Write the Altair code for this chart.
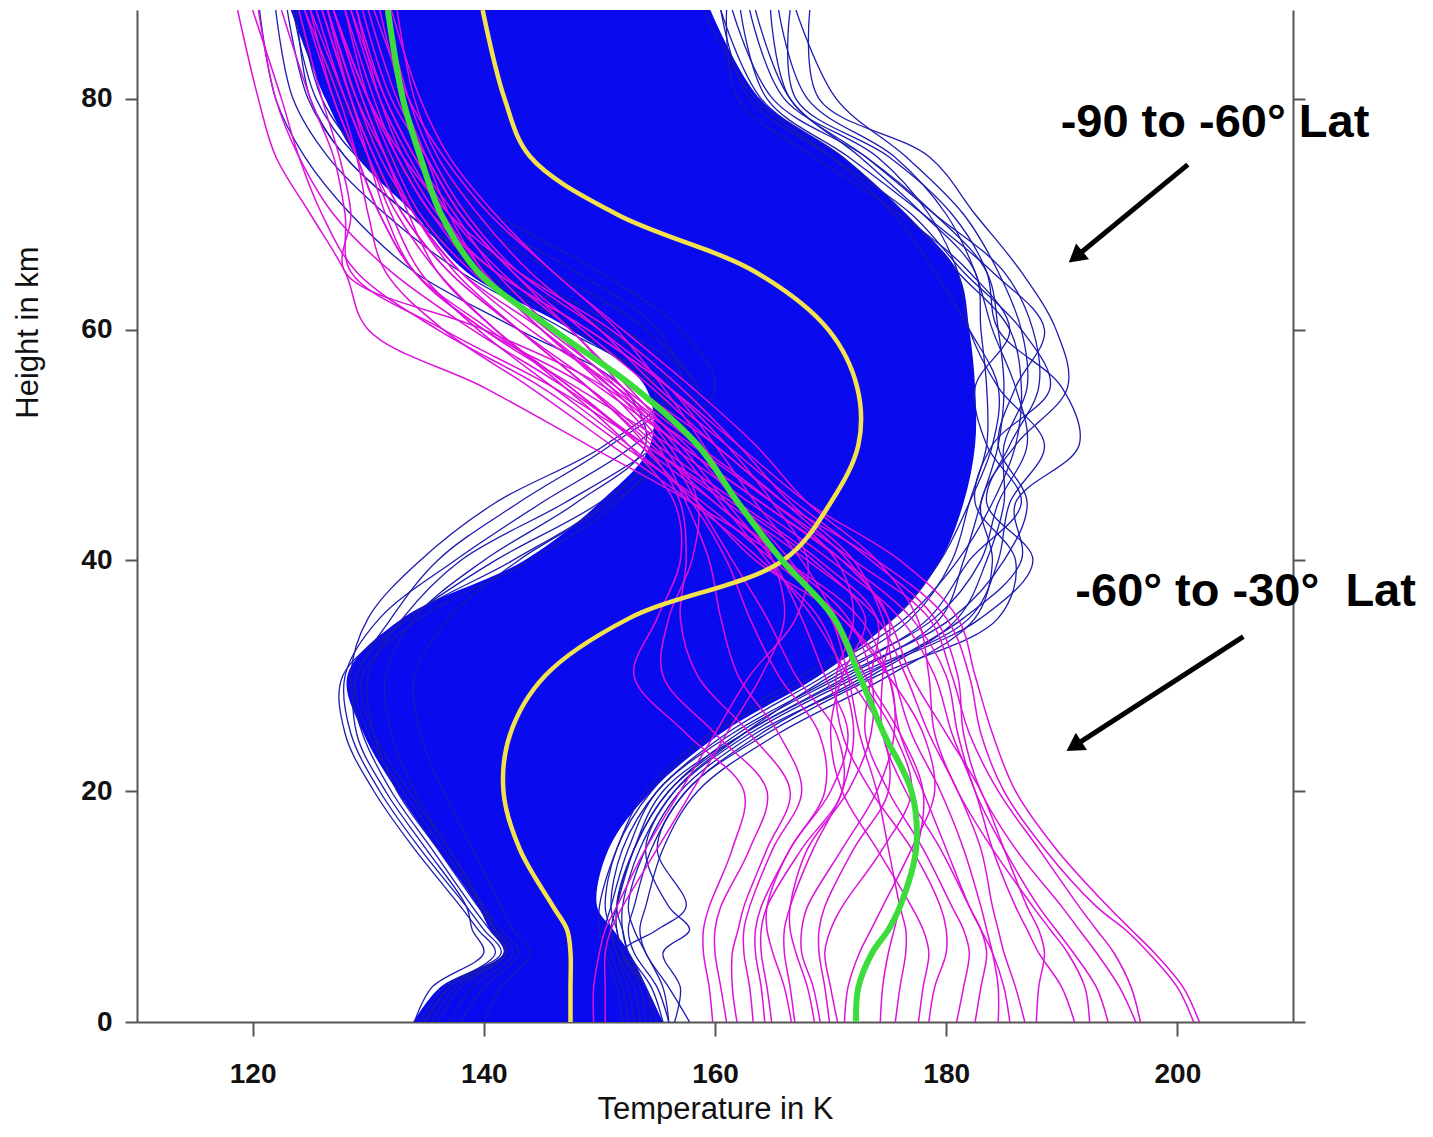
import altair as alt
import pandas as pd

# Height levels (km) shared by every profile
HEIGHTS = [0, 3, 6, 8, 10, 15, 20, 25, 30, 35, 40, 45, 50, 55, 60, 65, 70, 75, 80, 87.7]

# Dense core of the -90..-60 deg profiles (left / right edge, K)
BLUE_CORE_LO = [133.9, 136.2, 141.7, 140.5, 139.5, 136.0, 132.5, 129.6, 128.2, 133.0,
                143.5, 150.0, 154.4, 154.0, 147.5, 138.5, 134.0, 129.0, 126.3, 123.3]
BLUE_CORE_HI = [155.5, 154.1, 152.6, 151.2, 149.8, 150.8, 154.5, 160.5, 169.0, 175.5,
                179.5, 181.5, 182.5, 182.5, 182.0, 181.0, 176.5, 171.0, 163.9, 159.6]

# Individual -90..-60 deg profiles at the edges of the bundle (K)
BLUE_PROFILES = [
    [157.8, 156.0, 154.0, 153.5, 154.0, 155.5, 158.5, 165.5, 175.0, 182.5, 184.0, 183.0, 186.0, 190.5, 189.5, 186.5, 182.5, 178.5, 169.0, 168.2],
    [156.0, 155.0, 153.0, 152.5, 153.0, 154.5, 157.5, 164.0, 173.0, 181.5, 186.5, 186.0, 191.5, 190.0, 184.5, 183.5, 180.5, 175.0, 167.0, 166.5],
    [155.5, 154.5, 152.5, 152.0, 152.0, 153.5, 156.5, 163.0, 172.5, 183.0, 187.5, 183.5, 185.5, 188.0, 187.5, 185.0, 179.0, 173.0, 166.5, 164.8],
    [154.5, 154.0, 152.0, 151.5, 151.5, 153.0, 156.0, 162.0, 171.0, 180.5, 185.0, 187.0, 184.5, 186.0, 188.5, 184.0, 178.0, 171.5, 164.5, 162.2],
    [156.5, 157.0, 155.5, 157.8, 156.0, 154.0, 156.5, 162.5, 170.0, 179.0, 183.0, 184.5, 187.0, 186.0, 184.0, 182.5, 180.0, 175.5, 168.0, 165.5],
    [155.0, 154.0, 152.0, 155.0, 157.5, 155.0, 157.5, 164.5, 174.0, 184.5, 186.0, 182.5, 184.0, 189.0, 186.5, 181.5, 177.0, 170.0, 163.0, 160.5],
    [153.5, 153.0, 151.5, 151.0, 151.5, 153.0, 155.5, 162.5, 172.0, 182.0, 184.5, 185.5, 188.5, 184.5, 182.0, 181.0, 178.5, 174.0, 166.0, 163.0],
    [152.5, 152.0, 151.0, 150.5, 151.0, 152.5, 155.0, 161.5, 170.5, 178.5, 182.0, 186.5, 183.5, 182.5, 185.5, 182.0, 176.0, 168.5, 162.0, 161.0],
    [155.0, 154.0, 152.5, 152.0, 151.5, 153.0, 156.0, 162.5, 171.5, 179.5, 181.5, 183.0, 184.5, 185.0, 184.5, 183.5, 179.0, 173.0, 165.0, 161.5],
    [154.0, 153.5, 152.0, 151.5, 151.0, 152.0, 155.0, 161.0, 169.5, 177.0, 180.5, 182.0, 183.5, 183.5, 183.0, 182.5, 178.0, 172.5, 166.5, 163.5],
    [153.0, 152.5, 151.5, 151.0, 150.5, 151.5, 154.5, 160.0, 168.5, 176.5, 181.0, 184.0, 186.0, 186.5, 185.5, 181.0, 176.5, 171.0, 164.0, 160.5],
    [156.0, 155.5, 154.0, 153.0, 152.5, 154.0, 157.0, 163.5, 173.5, 181.0, 183.5, 185.0, 185.0, 187.0, 186.5, 184.5, 181.5, 176.5, 170.5, 167.0],
    [152.0, 151.5, 150.5, 150.0, 150.0, 151.5, 154.0, 159.5, 167.5, 175.5, 179.5, 182.0, 184.0, 184.5, 182.0, 179.0, 175.5, 170.0, 163.5, 159.0],
    [134.5, 136.5, 141.5, 140.0, 138.5, 134.5, 131.0, 128.5, 128.0, 131.0, 137.5, 145.0, 153.0, 158.0, 154.0, 146.0, 138.0, 131.5, 127.5, 125.0],
    [135.0, 137.0, 141.0, 139.5, 138.0, 134.0, 130.5, 128.0, 127.8, 133.5, 141.0, 150.0, 156.0, 158.5, 152.0, 143.0, 135.5, 129.0, 125.5, 123.5],
    [136.0, 138.0, 142.0, 140.5, 139.0, 135.5, 132.0, 129.5, 128.5, 130.0, 134.5, 141.0, 150.5, 156.0, 150.5, 141.0, 133.5, 128.0, 124.8, 123.0],
    [137.0, 139.0, 142.5, 141.0, 139.5, 136.0, 132.5, 130.5, 130.0, 133.0, 138.0, 147.0, 155.0, 160.0, 157.0, 150.0, 141.0, 134.0, 129.0, 126.5],
    [138.0, 140.0, 143.0, 141.5, 140.0, 137.0, 134.0, 132.0, 131.5, 134.0, 140.0, 148.0, 154.0, 152.0, 143.0, 134.0, 128.5, 124.5, 122.0, 120.6],
    [140.0, 141.5, 144.0, 142.5, 141.5, 139.0, 136.5, 134.5, 134.0, 137.0, 143.0, 151.0, 156.5, 155.0, 147.0, 138.0, 131.5, 126.5, 123.5, 122.0],
    [134.0, 135.5, 140.0, 139.0, 138.5, 135.0, 131.5, 129.0, 129.0, 132.0, 136.0, 143.0, 151.0, 157.0, 155.0, 148.0, 139.0, 132.0, 128.0, 124.5],
    [134.8, 137.0, 141.8, 140.8, 139.8, 136.5, 133.0, 130.0, 129.0, 133.5, 142.5, 150.5, 155.0, 154.5, 148.0, 139.5, 133.5, 128.0, 125.0, 123.8],
    [135.5, 137.5, 142.0, 141.0, 140.0, 137.0, 133.5, 130.5, 129.5, 134.5, 144.0, 151.5, 155.5, 155.0, 149.0, 140.0, 134.5, 129.5, 126.0, 124.0],
]

# Individual -60..-30 deg profiles (K)
MAGENTA_PROFILES = [
    [201.9, 200.5, 198.0, 196.0, 194.0, 189.5, 186.0, 184.0, 182.5, 181.0, 176.0, 168.0, 162.0, 156.0, 149.0, 141.0, 136.0, 133.0, 131.0, 129.0],
    [201.4, 200.0, 197.5, 195.5, 193.0, 188.5, 185.0, 183.0, 182.0, 180.0, 174.0, 166.0, 160.0, 153.0, 146.0, 139.0, 134.5, 132.0, 130.0, 128.0],
    [196.8, 196.0, 194.5, 193.0, 191.5, 188.0, 184.5, 182.0, 180.5, 178.5, 172.0, 165.0, 158.0, 151.0, 145.0, 140.0, 137.0, 135.0, 133.0, 131.0],
    [196.4, 195.0, 193.0, 191.5, 190.0, 186.0, 183.0, 181.5, 181.0, 179.0, 173.5, 167.0, 161.0, 155.0, 150.0, 144.0, 139.5, 136.0, 134.0, 132.5],
    [194.0, 193.0, 191.0, 189.5, 188.0, 185.0, 182.5, 181.0, 180.0, 177.0, 171.0, 164.0, 157.0, 150.0, 143.0, 137.0, 133.0, 130.5, 128.5, 126.5],
    [192.4, 192.0, 190.5, 189.0, 187.5, 184.0, 181.0, 179.0, 178.5, 177.5, 174.0, 168.0, 163.5, 158.0, 152.0, 146.0, 141.0, 137.0, 134.5, 132.0],
    [191.1, 190.0, 188.0, 187.0, 186.0, 184.0, 182.5, 180.5, 179.0, 176.0, 170.0, 163.0, 156.0, 148.0, 140.0, 134.0, 131.0, 129.0, 127.0, 125.0],
    [187.8, 188.0, 188.5, 188.0, 187.0, 185.0, 183.0, 180.0, 177.0, 175.0, 171.5, 166.0, 160.0, 154.5, 148.5, 142.5, 138.0, 135.0, 132.5, 130.0],
    [186.8, 186.0, 185.0, 184.5, 184.0, 183.0, 181.0, 178.5, 176.5, 174.0, 168.0, 161.0, 154.0, 147.0, 139.0, 132.0, 127.0, 124.0, 122.0, 120.5],
    [184.5, 184.5, 184.0, 183.5, 183.0, 181.5, 179.5, 177.0, 175.5, 174.5, 172.0, 166.5, 162.0, 157.0, 151.0, 143.0, 137.0, 133.0, 130.0, 127.0],
    [182.5, 183.0, 183.5, 183.0, 182.0, 179.5, 176.5, 174.5, 174.5, 175.0, 171.0, 164.0, 157.0, 150.5, 140.0, 128.0, 128.5, 127.5, 126.0, 124.0],
    [180.9, 181.5, 182.0, 181.5, 180.5, 178.0, 175.0, 173.0, 173.5, 174.0, 169.0, 162.0, 155.0, 149.0, 140.0, 134.0, 131.5, 130.0, 128.5, 126.0],
    [178.5, 179.0, 180.0, 180.0, 179.5, 177.0, 173.5, 171.0, 170.5, 172.0, 170.5, 165.0, 158.5, 152.0, 145.5, 139.5, 135.5, 132.5, 130.5, 128.0],
    [177.6, 178.0, 178.5, 178.0, 177.0, 174.0, 171.0, 170.0, 171.0, 173.0, 168.5, 161.5, 154.0, 146.0, 136.5, 128.5, 128.0, 127.0, 125.0, 122.5],
    [175.6, 176.0, 176.5, 176.5, 176.0, 175.0, 174.0, 172.5, 171.5, 170.0, 166.0, 160.0, 153.5, 147.5, 141.0, 136.0, 133.5, 131.5, 129.5, 127.0],
    [174.3, 174.5, 175.0, 175.5, 176.0, 177.5, 178.0, 176.0, 173.0, 170.5, 167.5, 163.5, 160.0, 156.0, 150.0, 143.0, 138.5, 135.5, 133.5, 131.5],
    [171.2, 171.5, 172.5, 173.5, 174.5, 177.0, 179.0, 178.0, 175.0, 171.0, 165.0, 159.0, 152.0, 145.0, 136.0, 129.0, 126.0, 124.0, 122.5, 120.0],
    [170.6, 170.0, 169.5, 170.0, 171.0, 174.5, 177.0, 175.5, 172.5, 170.0, 166.5, 162.0, 157.5, 151.5, 144.0, 138.0, 134.0, 131.0, 129.0, 126.5],
    [169.9, 169.5, 169.0, 169.0, 169.5, 172.0, 175.0, 174.5, 171.5, 168.5, 164.5, 160.5, 156.5, 152.0, 147.5, 141.5, 137.0, 134.0, 131.5, 129.0],
    [169.1, 168.5, 167.5, 167.5, 168.0, 171.0, 174.0, 175.5, 175.0, 171.0, 163.5, 158.5, 152.5, 146.0, 139.5, 134.5, 132.0, 130.0, 128.0, 125.0],
    [168.6, 168.0, 167.0, 166.5, 166.5, 168.0, 171.5, 173.5, 173.5, 171.5, 166.0, 160.0, 154.5, 149.0, 143.0, 137.0, 133.0, 130.5, 128.5, 126.0],
    [166.9, 166.5, 166.0, 166.0, 166.5, 168.5, 171.0, 172.0, 171.0, 169.0, 164.0, 158.0, 151.0, 144.0, 136.5, 131.5, 130.0, 129.0, 127.5, 124.5],
    [166.6, 166.0, 165.0, 164.5, 164.5, 166.5, 170.0, 171.5, 169.5, 167.5, 165.0, 161.0, 157.0, 152.5, 147.5, 142.5, 138.0, 135.0, 132.0, 129.5],
    [164.9, 164.5, 164.0, 164.0, 164.5, 167.5, 171.0, 170.5, 167.0, 164.5, 161.5, 158.5, 155.5, 151.0, 145.0, 138.0, 134.0, 131.5, 129.5, 127.0],
    [164.3, 164.0, 163.5, 163.5, 164.0, 166.5, 169.5, 169.0, 165.5, 163.0, 161.0, 158.0, 153.5, 147.5, 140.5, 134.0, 131.0, 129.0, 127.0, 124.5],
    [163.3, 163.0, 162.5, 162.5, 163.0, 165.0, 167.5, 165.5, 162.0, 160.5, 159.5, 157.5, 155.0, 150.5, 145.0, 140.0, 136.5, 133.5, 131.0, 128.5],
    [161.9, 161.5, 161.5, 162.0, 162.5, 164.5, 166.5, 163.0, 158.5, 157.0, 157.5, 157.0, 154.0, 149.0, 143.0, 137.5, 134.0, 131.5, 129.0, 126.5],
    [161.0, 160.5, 160.0, 160.0, 160.5, 163.0, 164.5, 160.0, 155.5, 156.0, 158.0, 158.5, 156.0, 151.5, 146.0, 141.0, 137.5, 134.0, 131.5, 128.5],
    [159.8, 159.5, 159.0, 159.0, 159.5, 161.5, 162.5, 157.5, 153.0, 155.0, 157.0, 156.5, 152.5, 147.0, 141.0, 136.0, 132.5, 130.0, 128.0, 125.5],
    [150.5, 150.5, 150.5, 151.0, 152.0, 155.0, 158.0, 161.0, 164.0, 166.0, 165.0, 162.0, 159.0, 155.5, 151.5, 146.0, 140.5, 136.5, 133.5, 130.5],
    [149.5, 149.5, 150.0, 150.5, 151.5, 154.0, 157.0, 160.0, 163.0, 167.0, 168.0, 165.0, 161.0, 156.0, 149.0, 141.0, 135.5, 132.5, 130.0, 127.0],
    [185.5, 185.0, 184.0, 183.0, 182.0, 180.0, 178.0, 176.0, 175.0, 172.5, 166.0, 158.0, 149.0, 140.0, 130.0, 128.0, 125.0, 122.0, 120.5, 118.7],
]

# Mean profiles (K)
BLUE_MEAN = [147.5, 147.5, 147.5, 147.2, 146.0, 143.1, 141.7, 142.3, 145.3, 152.6,
             165.9, 170.0, 172.4, 172.3, 169.8, 163.5, 151.5, 144.0, 141.8, 139.9]
MAGENTA_MEAN = [172.2, 172.4, 173.6, 175.0, 176.0, 177.4, 177.0, 174.6, 172.5, 170.3,
                165.8, 162.0, 158.5, 153.0, 146.0, 139.5, 136.3, 134.5, 133.0, 131.7]

X_TICKS = [120, 140, 160, 180, 200]
Y_TICKS = [0, 20, 40, 60, 80]

# Annotations (data coordinates)
LABEL_TEXT = ["-90 to -60° Lat", "-60° to -30°\u00a0 Lat"]
LABEL_T = [203.25, 205.9]
LABEL_H = [77.9, 37.3]
ARROW_T0 = [200.9, 205.7]
ARROW_H0 = [74.3, 33.4]
ARROW_T1 = [191.2, 191.05]
ARROW_H1 = [66.3, 23.9]
ARROW_ANGLE = [230.5, 237.0]


def profiles_frame(profiles, prefix):
    rows = []
    for i, prof in enumerate(profiles):
        for h, t in zip(HEIGHTS, prof):
            rows.append({"id": f"{prefix}{i}", "h": h, "T": t})
    return pd.DataFrame(rows)


core_df = pd.DataFrame({"h": HEIGHTS, "lo": BLUE_CORE_LO, "hi": BLUE_CORE_HI})
blue_df = profiles_frame(BLUE_PROFILES, "b")
mag_df = profiles_frame(MAGENTA_PROFILES, "m")
bmean_df = pd.DataFrame({"h": HEIGHTS, "T": BLUE_MEAN})
mmean_df = pd.DataFrame({"h": HEIGHTS, "T": MAGENTA_MEAN})
label_df = pd.DataFrame({"text": LABEL_TEXT, "T": LABEL_T, "h": LABEL_H})
arrow_df = pd.DataFrame({"T0": ARROW_T0, "h0": ARROW_H0, "T1": ARROW_T1,
                         "h1": ARROW_H1, "ang": ARROW_ANGLE})

FONT = "Liberation Sans"
AXIS_GREY = "#555555"

xscale = alt.Scale(domain=[110, 210], nice=False, zero=False)
yscale = alt.Scale(domain=[0, 87.7], nice=False, zero=False)

x_axis = alt.Axis(values=X_TICKS, grid=False, tickSize=14, tickWidth=2, tickColor=AXIS_GREY,
                  domainColor=AXIS_GREY, domainWidth=2, labelFont=FONT, labelFontSize=28,
                  labelFontWeight="bold", labelColor="#111111", labelPadding=24,
                  title="Temperature in K", titleFont=FONT, titleFontSize=31,
                  titleFontWeight="normal", titleColor="#111111",
                  titleY=96, titleBaseline="alphabetic")
y_axis_left = alt.Axis(values=Y_TICKS, grid=False, orient="left", tickSize=12, tickWidth=2,
                       tickColor=AXIS_GREY, domainColor=AXIS_GREY, domainWidth=2,
                       labelFont=FONT, labelFontSize=28, labelFontWeight="bold",
                       labelColor="#111111", labelPadding=13,
                       title="Height in km", titleFont=FONT, titleFontSize=31,
                       titleFontWeight="normal", titleColor="#111111",
                       titleX=-109, titleY=322, titleBaseline="middle")
y_axis_right = alt.Axis(values=Y_TICKS, grid=False, orient="right", tickSize=12, tickWidth=2,
                        tickColor=AXIS_GREY, domainColor=AXIS_GREY, domainWidth=2,
                        labels=False, title=None)


def xenc(field):
    return alt.X(field, scale=xscale, axis=x_axis)


core = alt.Chart(core_df).mark_area(
    orient="horizontal", color="#0a0aee", interpolate="catmull-rom", clip=True
).encode(
    y=alt.Y("h:Q", scale=yscale, axis=y_axis_left),
    x=xenc("lo:Q"),
    x2="hi:Q",
)

blue_lines = alt.Chart(blue_df).mark_line(
    color="#1c1cb0", strokeWidth=1.3, interpolate="catmull-rom", clip=True
).encode(
    x=xenc("T:Q"),
    y=alt.Y("h:Q", scale=yscale, axis=None),
    detail="id:N",
    order="h:Q",
)

mag_lines = alt.Chart(mag_df).mark_line(
    color="#dd11dd", strokeWidth=1.5, interpolate="catmull-rom", clip=True
).encode(
    x=xenc("T:Q"),
    y=alt.Y("h:Q", scale=yscale, axis=None),
    detail="id:N",
    order="h:Q",
)

bmean = alt.Chart(bmean_df).mark_line(
    color="#f4e24c", strokeWidth=4.5, interpolate="catmull-rom", clip=True
).encode(
    x=xenc("T:Q"),
    y=alt.Y("h:Q", scale=yscale, axis=y_axis_right),
    order="h:Q",
)

mmean = alt.Chart(mmean_df).mark_line(
    color="#3ddc3d", strokeWidth=6, interpolate="catmull-rom", clip=True
).encode(
    x=xenc("T:Q"),
    y=alt.Y("h:Q", scale=yscale, axis=None),
    order="h:Q",
)

shafts = alt.Chart(arrow_df).mark_rule(color="black", strokeWidth=5).encode(
    x=xenc("T0:Q"),
    y=alt.Y("h0:Q", scale=yscale, axis=None),
    x2="T1:Q",
    y2="h1:Q",
)

heads = alt.Chart(arrow_df).mark_point(
    shape="triangle-up", filled=True, size=420, color="black", opacity=1
).encode(
    x=xenc("T1:Q"),
    y=alt.Y("h1:Q", scale=yscale, axis=None),
    angle=alt.Angle("ang:Q", scale=None),
)

labels = alt.Chart(label_df).mark_text(
    font=FONT, fontSize=47, fontWeight="bold", color="black", align="center",
    baseline="middle"
).encode(
    x=xenc("T:Q"),
    y=alt.Y("h:Q", scale=yscale, axis=None),
    text="text:N",
)

chart = alt.layer(
    core, blue_lines, mag_lines, bmean, mmean, shafts, heads, labels
).resolve_axis(
    y="independent"
).properties(
    width=1156,
    height=1012,
    autosize=alt.AutoSizeParams(type="none"),
    padding={"left": 129, "top": 2, "right": 131, "bottom": 102},
    background="white",
).configure_view(stroke=None)

chart.save("out.html", embed_options={"renderer": "svg", "actions": False})
